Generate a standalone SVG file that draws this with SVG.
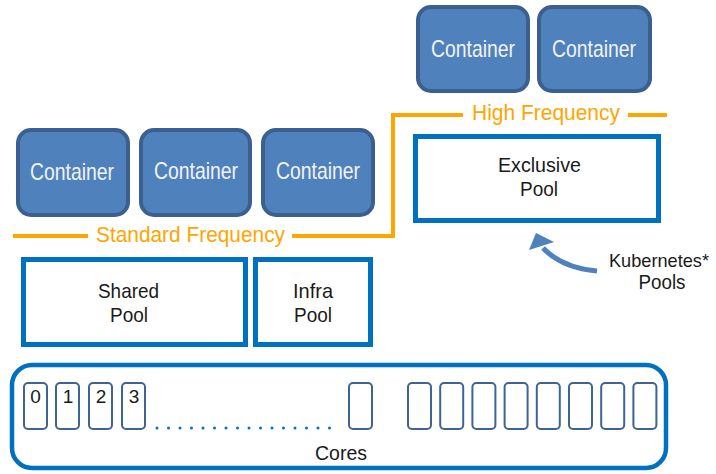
<svg xmlns="http://www.w3.org/2000/svg" width="716" height="474" viewBox="0 0 716 474">
<style>
.cont{fill:#4f81bd;stroke:#3b5f8e;stroke-width:4}
.ct{font-family:"Liberation Sans Narrow","Liberation Sans",sans-serif;font-size:24px;fill:#f2f2f2;text-anchor:middle}
.pool{fill:#fff;stroke:#0070c0;stroke-width:5}
.t{font-family:"Liberation Sans Narrow","Liberation Sans",sans-serif;font-size:21px;fill:#1a1a1a;text-anchor:middle}
.freq{font-family:"Liberation Sans Narrow","Liberation Sans",sans-serif;font-size:22px;fill:#ffa500;text-anchor:middle}
.ol{fill:none;stroke:#ffa500;stroke-width:4}
.cell{fill:#fff;stroke:#3e6494;stroke-width:2}
.d{font-family:"Liberation Sans Narrow","Liberation Sans",sans-serif;font-size:19px;fill:#1a1a1a;text-anchor:middle}
</style>
<rect width="716" height="474" fill="#fff"/>
<g id="connectors">
<line class="ol" x1="13" y1="236" x2="88" y2="236"/>
<path class="ol" d="M292,236 H393 V115 H463"/>
<line class="ol" x1="628" y1="115" x2="667" y2="115"/>
<path d="M597,271 Q562,268 543,248" fill="none" stroke="#4f81bd" stroke-width="5"/>
<polygon points="529,250 536,233 554,242" fill="#4f81bd"/>
</g>
<g id="freq-labels">
<text class="freq" x="190.5" y="242" textLength="189" lengthAdjust="spacingAndGlyphs">Standard Frequency</text>
<text class="freq" x="546" y="120" textLength="148" lengthAdjust="spacingAndGlyphs">High Frequency</text>
</g>
<g id="container1"><rect class="cont" x="18" y="130" width="110" height="85" rx="13"/><text class="ct" x="72" y="180" textLength="84" lengthAdjust="spacingAndGlyphs">Container</text></g>
<g id="container2"><rect class="cont" x="141" y="130" width="109" height="85" rx="13"/><text class="ct" x="196" y="179" textLength="84" lengthAdjust="spacingAndGlyphs">Container</text></g>
<g id="container3"><rect class="cont" x="263" y="130" width="110" height="85" rx="13"/><text class="ct" x="318" y="179" textLength="84" lengthAdjust="spacingAndGlyphs">Container</text></g>
<g id="container4"><rect class="cont" x="418" y="7" width="110" height="84" rx="13"/><text class="ct" x="473" y="57" textLength="84" lengthAdjust="spacingAndGlyphs">Container</text></g>
<g id="container5"><rect class="cont" x="539" y="7" width="111" height="84" rx="13"/><text class="ct" x="594" y="57" textLength="84" lengthAdjust="spacingAndGlyphs">Container</text></g>
<g id="exclusive-pool"><rect class="pool" x="415.5" y="136.5" width="243" height="84"/>
<text class="t" x="539.5" y="172" textLength="83" lengthAdjust="spacingAndGlyphs">Exclusive</text>
<text class="t" x="539" y="196" textLength="38" lengthAdjust="spacingAndGlyphs">Pool</text></g>
<g id="shared-pool"><rect class="pool" x="23.5" y="259.5" width="222" height="85"/>
<text class="t" x="128.5" y="298" textLength="61" lengthAdjust="spacingAndGlyphs">Shared</text>
<text class="t" x="129" y="322" textLength="38" lengthAdjust="spacingAndGlyphs">Pool</text></g>
<g id="infra-pool"><rect class="pool" x="255.5" y="259.5" width="115" height="85"/>
<text class="t" x="313" y="298" textLength="40" lengthAdjust="spacingAndGlyphs">Infra</text>
<text class="t" x="313" y="322" textLength="38" lengthAdjust="spacingAndGlyphs">Pool</text></g>
<g id="kubernetes-label">
<text class="t" x="659" y="267" style="font-size:19px" textLength="100" lengthAdjust="spacingAndGlyphs">Kubernetes*</text>
<text class="t" x="662" y="289" textLength="47" lengthAdjust="spacingAndGlyphs">Pools</text></g>
<g id="cores">
<rect x="12" y="365" width="654" height="103" rx="20" fill="#fff" stroke="#0070c0" stroke-width="4.5"/>
<rect class="cell" x="24" y="383" width="23" height="46" rx="4"/>
<rect class="cell" x="56" y="383" width="23" height="46" rx="4"/>
<rect class="cell" x="89" y="383" width="23" height="46" rx="4"/>
<rect class="cell" x="122" y="383" width="23" height="46" rx="4"/>
<rect class="cell" x="349" y="383" width="23" height="46" rx="4"/>
<rect class="cell" x="408" y="383" width="23" height="46" rx="4"/>
<rect class="cell" x="440.2" y="383" width="23" height="46" rx="4"/>
<rect class="cell" x="472.4" y="383" width="23" height="46" rx="4"/>
<rect class="cell" x="504.6" y="383" width="23" height="46" rx="4"/>
<rect class="cell" x="536.8" y="383" width="23" height="46" rx="4"/>
<rect class="cell" x="569" y="383" width="23" height="46" rx="4"/>
<rect class="cell" x="601.2" y="383" width="23" height="46" rx="4"/>
<rect class="cell" x="633.4" y="383" width="23" height="46" rx="4"/>
<text class="d" x="35.5" y="403">0</text>
<text class="d" x="68" y="403">1</text>
<text class="d" x="101" y="403">2</text>
<text class="d" x="134" y="403">3</text>
<line x1="157" y1="428" x2="341" y2="428" stroke="#0070c0" stroke-width="3" stroke-linecap="round" stroke-dasharray="0 11.5"/>
<text class="t" x="341" y="460" textLength="52" lengthAdjust="spacingAndGlyphs">Cores</text>
</g>
</svg>
